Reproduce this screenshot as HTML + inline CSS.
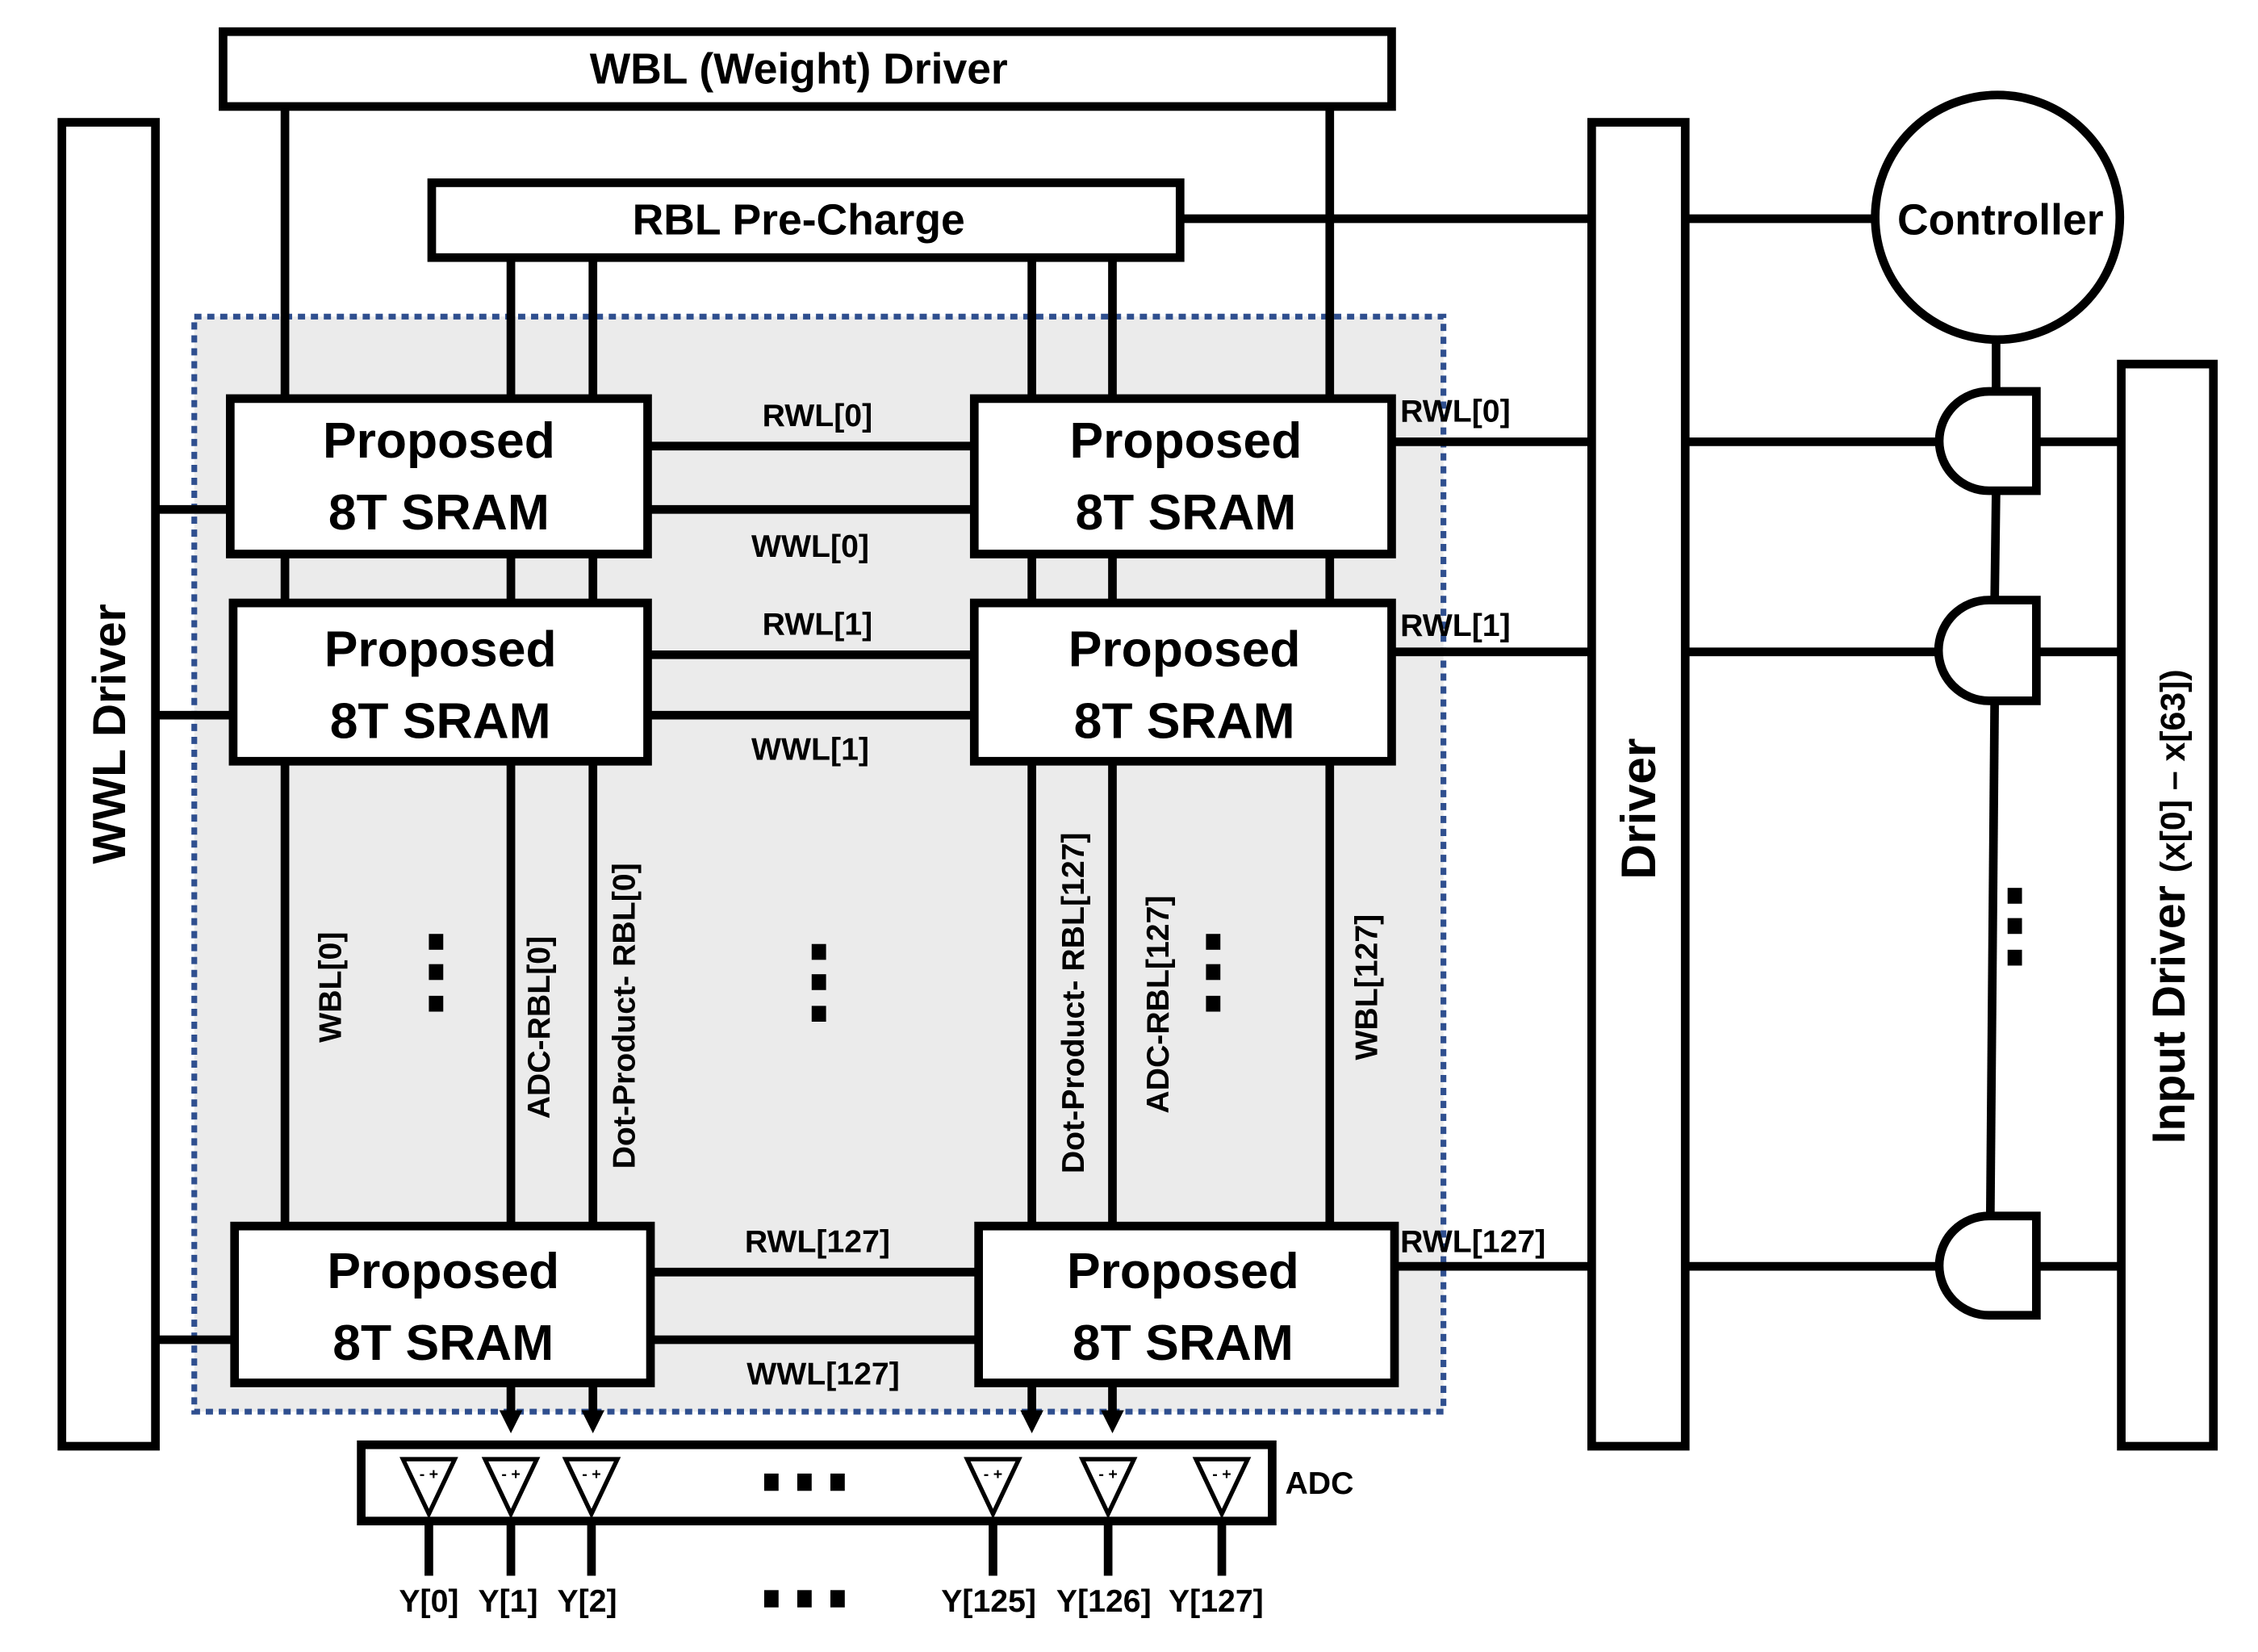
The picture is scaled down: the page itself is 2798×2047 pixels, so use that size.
<!DOCTYPE html>
<html><head><meta charset="utf-8"><style>html,body{margin:0;padding:0;background:#fff}svg{display:block}</style></head>
<body>
<svg width="2798" height="2047" viewBox="0 0 1569 1148" preserveAspectRatio="none" xmlns="http://www.w3.org/2000/svg" font-family="Liberation Sans, sans-serif" font-weight="bold">
<rect x="135" y="220" width="868" height="761" fill="#ebebeb" stroke="#2f4f8f" stroke-width="4" stroke-dasharray="5,4"/>
<g stroke="#000" stroke-width="6" fill="none">
<line x1="198" y1="74" x2="198" y2="852"/>
<line x1="924" y1="74" x2="924" y2="852"/>
<line x1="355" y1="179" x2="355" y2="990"/>
<line x1="412" y1="179" x2="412" y2="990"/>
<line x1="717" y1="179" x2="717" y2="990"/>
<line x1="773" y1="179" x2="773" y2="990"/>
<line x1="450" y1="310" x2="677" y2="310"/><line x1="450" y1="354" x2="677" y2="354"/>
<line x1="450" y1="455" x2="677" y2="455"/><line x1="450" y1="497" x2="677" y2="497"/>
<line x1="452" y1="884" x2="680" y2="884"/><line x1="452" y1="931" x2="680" y2="931"/>
<line x1="108" y1="354" x2="160" y2="354"/><line x1="108" y1="497" x2="160" y2="497"/><line x1="108" y1="931" x2="163" y2="931"/>
<line x1="967" y1="307" x2="1106" y2="307"/><line x1="967" y1="453" x2="1106" y2="453"/><line x1="969" y1="880" x2="1106" y2="880"/>
<line x1="1171" y1="307" x2="1347" y2="307"/><line x1="1171" y1="453" x2="1347" y2="453"/><line x1="1171" y1="880" x2="1347" y2="880"/>
<line x1="1415" y1="307" x2="1474" y2="307"/><line x1="1415" y1="453" x2="1474" y2="453"/><line x1="1415" y1="880" x2="1474" y2="880"/>
<line x1="820" y1="152" x2="1106" y2="152"/><line x1="1171" y1="152" x2="1302" y2="152"/>
<line x1="1387" y1="237" x2="1387" y2="272"/><line x1="1387" y1="341" x2="1386" y2="417"/><line x1="1386" y1="487" x2="1383" y2="845"/>
<rect x="155" y="22" width="812" height="52" fill="#fff"/>
<rect x="43" y="85" width="65" height="920" fill="#fff"/>
<rect x="300" y="127" width="520" height="52" fill="#fff"/>
<rect x="1106" y="85" width="65" height="920" fill="#fff"/>
<rect x="1474" y="253" width="64" height="752" fill="#fff"/>
<circle cx="1388" cy="151" r="85" fill="#fff"/>
<rect x="160" y="277" width="290" height="108" fill="#fff"/>
<rect x="677" y="277" width="290" height="108" fill="#fff"/>
<rect x="162" y="419" width="288" height="110" fill="#fff"/>
<rect x="677" y="419" width="290" height="110" fill="#fff"/>
<rect x="163" y="852" width="289" height="109" fill="#fff"/>
<rect x="680" y="852" width="289" height="109" fill="#fff"/>
<path d="M1415 272 V341 H1382 A34.5 34.5 0 0 1 1382 272 Z" fill="#fff"/>
<path d="M1415 417 V487 H1382 A35 35 0 0 1 1382 417 Z" fill="#fff"/>
<path d="M1415 845 V914 H1382 A34.5 34.5 0 0 1 1382 845 Z" fill="#fff"/>
<rect x="251" y="1004" width="633" height="53" fill="#fff"/>
<g stroke-width="6"><line x1="298" y1="1057" x2="298" y2="1095"/><line x1="355" y1="1057" x2="355" y2="1095"/><line x1="411" y1="1057" x2="411" y2="1095"/><line x1="690" y1="1057" x2="690" y2="1095"/><line x1="770" y1="1057" x2="770" y2="1095"/><line x1="849" y1="1057" x2="849" y2="1095"/></g>
<g stroke-width="3">
<path d="M280 1014 H316 L298 1052 Z"/><path d="M337 1014 H373 L355 1052 Z"/><path d="M393 1014 H429 L411 1052 Z"/>
<path d="M672 1014 H708 L690 1052 Z"/><path d="M752 1014 H788 L770 1052 Z"/><path d="M831 1014 H867 L849 1052 Z"/>
</g>
</g>
<g fill="#000"><path d="M347 980 h16 l-8 16z"/><path d="M404 980 h16 l-8 16z"/><path d="M709 980 h16 l-8 16z"/><path d="M765 980 h16 l-8 16z"/></g>
<g font-size="11" text-anchor="middle"><text x="298" y="1028">- +</text><text x="355" y="1028">- +</text><text x="411" y="1028">- +</text><text x="690" y="1028">- +</text><text x="770" y="1028">- +</text><text x="849" y="1028">- +</text></g>
<g fill="#000">
<rect x="531" y="1024" width="10" height="12"/><rect x="554" y="1024" width="10" height="12"/><rect x="577" y="1024" width="10" height="12"/>
<rect x="531" y="1105" width="10" height="12"/><rect x="554" y="1105" width="10" height="12"/><rect x="577" y="1105" width="10" height="12"/>
<rect x="298" y="649" width="10" height="11"/><rect x="298" y="670" width="10" height="11"/><rect x="298" y="692" width="10" height="11"/>
<rect x="564" y="656" width="10" height="11"/><rect x="564" y="677" width="10" height="11"/><rect x="564" y="699" width="10" height="11"/>
<rect x="838" y="649" width="10" height="11"/><rect x="838" y="670" width="10" height="11"/><rect x="838" y="692" width="10" height="11"/>
<rect x="1395" y="617" width="10" height="11"/><rect x="1395" y="638" width="10" height="11"/><rect x="1395" y="660" width="10" height="11"/>
</g>
<g text-anchor="middle" fill="#000">
<text x="555" y="58" font-size="30">WBL (Weight) Driver</text>
<text x="555" y="163" font-size="30">RBL Pre-Charge</text>
<text x="1390" y="163" font-size="30">Controller</text>
<g font-size="35">
<text x="305" y="318">Proposed</text><text x="305" y="368">8T SRAM</text>
<text x="824" y="318">Proposed</text><text x="824" y="368">8T SRAM</text>
<text x="306" y="463">Proposed</text><text x="306" y="513">8T SRAM</text>
<text x="823" y="463">Proposed</text><text x="823" y="513">8T SRAM</text>
<text x="308" y="895">Proposed</text><text x="308" y="945">8T SRAM</text>
<text x="822" y="895">Proposed</text><text x="822" y="945">8T SRAM</text>
</g>
<g font-size="22">
<text x="568" y="296">RWL[0]</text><text x="563" y="387">WWL[0]</text>
<text x="568" y="441">RWL[1]</text><text x="563" y="528">WWL[1]</text>
<text x="568" y="870">RWL[127]</text><text x="572" y="962">WWL[127]</text>
</g>
<g font-size="22" text-anchor="start">
<text x="973" y="293">RWL[0]</text><text x="973" y="442">RWL[1]</text><text x="973" y="870">RWL[127]</text>
<text x="893" y="1038">ADC</text>
</g>
<g font-size="22">
<text x="298" y="1120">Y[0]</text><text x="353" y="1120">Y[1]</text><text x="408" y="1120">Y[2]</text>
<text x="687" y="1120">Y[125]</text><text x="767" y="1120">Y[126]</text><text x="845" y="1120">Y[127]</text>
</g>
<text transform="translate(87,510) rotate(-90)" font-size="32">WWL Driver</text>
<text transform="translate(1150,562) rotate(-90)" font-size="34">Driver</text>
<text transform="translate(1518,630) rotate(-90)" font-size="32">Input Driver <tspan font-size="24">(x[0] – x[63])</tspan></text>
<g font-size="22">
<text transform="translate(237,686) rotate(-90)">WBL[0]</text>
<text transform="translate(382,714) rotate(-90)">ADC-RBL[0]</text>
<text transform="translate(441,706) rotate(-90)">Dot-Product- RBL[0]</text>
<text transform="translate(753,697) rotate(-90)">Dot-Product- RBL[127]</text>
<text transform="translate(812,698) rotate(-90)">ADC-RBL[127]</text>
<text transform="translate(957,686) rotate(-90)">WBL[127]</text>
</g>
</g>
</svg>
</body></html>
